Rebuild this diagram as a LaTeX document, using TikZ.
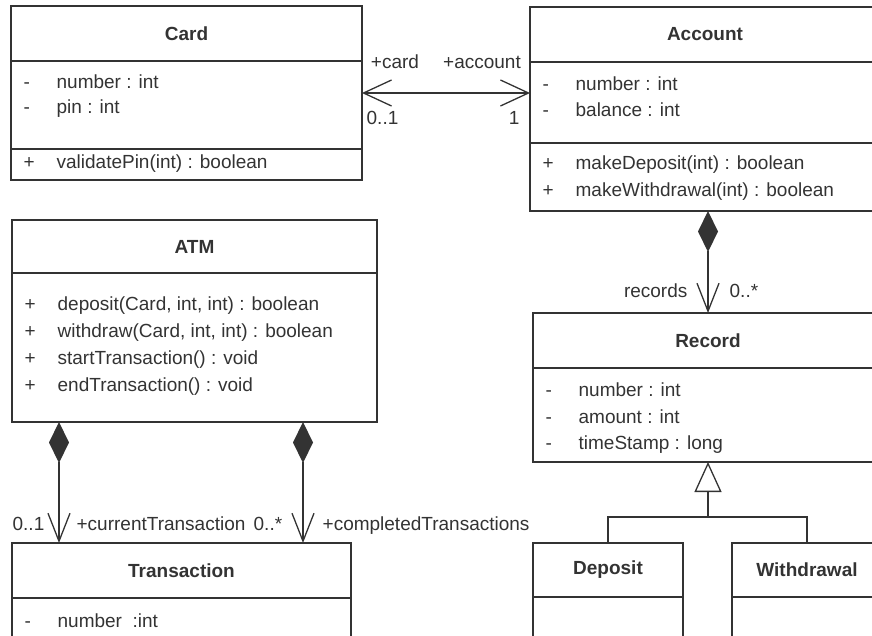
\documentclass[tikz,border=0pt]{standalone}
\usepackage{fontspec}
\setmainfont{Liberation Sans}
\usetikzlibrary{arrows.meta}
\newcommand{\mem}[2]{\makebox[33pt][l]{#1}#2}

\begin{document}
\begin{tikzpicture}[x=1pt,y=-1pt,
  font=\fontsize{19}{24}\selectfont,line width=1.3pt,color=black!80,
  box/.style={draw,anchor=north west,inner sep=0,outer sep=0},
  member/.style={anchor=base west,inner sep=0},
  lbl/.style={inner sep=0},
  comp/.style={{Diamond[length=41pt,width=20pt]}-{Straight Barb[length=28pt,width=22pt]}},
  nav/.style={{Straight Barb[length=28pt,width=26pt]}-{Straight Barb[length=28pt,width=26pt]}},
  gen/.style={-{Triangle[open,length=30pt,width=27pt]}}]

  \useasboundingbox (0,0) rectangle (872,636);
  \clip (0,0) rectangle (872,636);

  % Card
  \node[box,minimum width=351pt,minimum height=55pt] (card) at (11,6) {\textbf{Card}};
  \node[box,minimum width=351pt,minimum height=88pt] (card-a) at (card.south west) {};
  \node[box,minimum width=351pt,minimum height=31pt] (card-o) at (card-a.south west) {};
  \node[member] (card-a1) at (23,89) {\mem{-}{number : int}};
  \node[member] (card-a2) at (23,114) {\mem{-}{pin : int}};
  \node[member] (card-o1) at (23,169) {\mem{+}{validatePin(int) : boolean}};

  % Account
  \node[box,minimum width=350pt,minimum height=55pt] (account) at (530,7) {\textbf{Account}};
  \node[box,minimum width=350pt,minimum height=81pt] (account-a) at (account.south west) {};
  \node[box,minimum width=350pt,minimum height=68pt] (account-o) at (account-a.south west) {};
  \node[member] (account-a1) at (542,91) {\mem{-}{number : int}};
  \node[member] (account-a2) at (542,117) {\mem{-}{balance : int}};
  \node[member] (account-o1) at (542,170) {\mem{+}{makeDeposit(int) : boolean}};
  \node[member] (account-o2) at (542,197) {\mem{+}{makeWithdrawal(int) : boolean}};

  % ATM
  \node[box,minimum width=365pt,minimum height=53pt] (atm) at (12,220) {\textbf{ATM}};
  \node[box,minimum width=365pt,minimum height=149pt] (atm-o) at (atm.south west) {};
  \foreach \t [count=\i] in {{deposit(Card, int, int) : boolean},
      {withdraw(Card, int, int) : boolean},{startTransaction() : void},
      {endTransaction() : void}}
    \node[member] (atm-o\i) at (24,283+27*\i) {\mem{+}{\t}};

  % Record
  \node[box,minimum width=350pt,minimum height=55pt] (record) at (533,313) {\textbf{Record}};
  \node[box,minimum width=350pt,minimum height=94pt] (record-a) at (record.south west) {};
  \node[member] (record-a1) at (545,396) {\mem{-}{number : int}};
  \node[member] (record-a2) at (545,423) {\mem{-}{amount : int}};
  \node[member] (record-a3) at (545,449) {\mem{-}{timeStamp : long}};

  % Transaction
  \node[box,minimum width=339pt,minimum height=55pt] (trans) at (12,543) {\textbf{Transaction}};
  \node[box,minimum width=339pt,minimum height=55pt] (trans-a) at (trans.south west) {};
  \node[member] (trans-a1) at (24,627) {\mem{-}{number \ :int}};

  % Deposit, Withdrawal
  \node[box,minimum width=150pt,minimum height=54pt] (dep) at (533,543) {\textbf{Deposit}};
  \node[box,minimum width=150pt,minimum height=55pt] (dep-a) at (dep.south west) {};
  \node[box,minimum width=150pt,minimum height=54pt] (wd) at (732,543) {\textbf{Withdrawal}};
  \node[box,minimum width=150pt,minimum height=55pt] (wd-a) at (wd.south west) {};

  % associations
  \draw[nav] (card-a.east |- 0,93) -- (account-a.west |- 0,93);
  \node[lbl,anchor=base] (r-card) at (395,69) {+card};
  \node[lbl,anchor=base] (r-account) at (482,69) {+account};
  \node[lbl,anchor=base west] (m-card) at (366,125) {0..1};
  \node[lbl,anchor=base east] (m-account) at (520,125) {1};

  \draw[comp] (account-o.south -| record.north) -- (record.north);
  \node[lbl,anchor=base east] (r-records) at (688,297) {records};
  \node[lbl,anchor=base west] (m-records) at (729,297) {0..*};

  \draw[comp] (atm-o.south -| 59,0) -- (trans.north -| 59,0);
  \draw[comp] (atm-o.south -| 303,0) -- (trans.north -| 303,0);
  \node[lbl,anchor=base west] (m-cur) at (12,530) {0..1};
  \node[lbl,anchor=base west] (r-cur) at (76,530) {+currentTransaction};
  \node[lbl,anchor=base west] (m-done) at (253,530) {0..*};
  \node[lbl,anchor=base west] (r-done) at (322,530) {+completedTransactions};

  % generalization
  \coordinate (gen) at (708,517);
  \draw (dep.north) |- (gen) -| (wd.north);
  \draw[gen] (gen) -- (record-a.south);
\end{tikzpicture}
\end{document}
